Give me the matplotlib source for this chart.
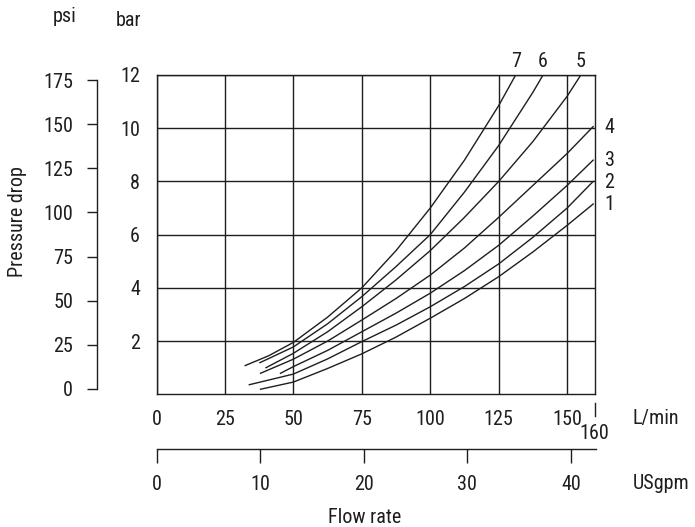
import matplotlib
matplotlib.use('Agg')
import matplotlib.pyplot as plt
from matplotlib import font_manager
from matplotlib.transforms import blended_transform_factory

# the reference uses a condensed face; take the first one that is installed
installed = {f.name for f in font_manager.fontManager.ttflist}
for fam in ['Roboto Condensed', 'Liberation Sans Narrow', 'DejaVu Sans Condensed',
            'Open Sans Condensed', 'Roboto']:
    if fam in installed:
        break
plt.rcParams['font.family'] = [fam, 'DejaVu Sans']

# axis ticks
lpm_ticks = [0, 25, 50, 75, 100, 125, 150]
bar_ticks = [2, 4, 6, 8, 10, 12]
psi_ticks = [0, 25, 50, 75, 100, 125, 150, 175]
gpm_ticks = [0, 10, 20, 30, 40]
LPM_PER_GPM = 3.785

# pressure drop curves, flow in L/min, pressure in bar
q1 = [38, 50, 62.5, 75, 87.5, 100, 112.5, 125, 137.5, 150, 159.5]
p1 = [0.19, 0.46, 0.97, 1.52, 2.15, 2.86, 3.6, 4.42, 5.35, 6.35, 7.15]
q2 = [33.9, 50, 62.5, 75, 87.5, 100, 112.5, 125, 137.5, 150, 159.5]
p2 = [0.36, 0.76, 1.33, 1.98, 2.6, 3.29, 4.05, 4.9, 5.9, 7.0, 8.0]
q3 = [45.3, 50, 62.5, 75, 87.5, 100, 112.5, 125, 137.5, 150, 159.5]
p3 = [0.79, 1.04, 1.65, 2.35, 3.05, 3.8, 4.65, 5.6, 6.7, 7.85, 8.8]
q4 = [38, 50, 62.5, 75, 87.5, 100, 112.5, 125, 137.5, 150, 159.5]
p4 = [0.79, 1.32, 2.0, 2.79, 3.6, 4.48, 5.5, 6.65, 7.85, 9.05, 10.06]
q5 = [40, 50, 62.5, 75, 87.5, 100, 112.5, 125, 137.5, 150, 155]
p5 = [1.0, 1.54, 2.35, 3.29, 4.3, 5.4, 6.65, 8.0, 9.5, 11.2, 12.0]
q6 = [37.8, 50, 62.5, 75, 87.5, 100, 112.5, 125, 137.5, 141.2]
p6 = [1.19, 1.78, 2.65, 3.67, 4.8, 6.0, 7.6, 9.35, 11.35, 12.0]
q7 = [32.4, 41, 50, 62.5, 75, 87.5, 100, 112.5, 125, 131.2]
p7 = [1.08, 1.45, 1.95, 2.9, 4.0, 5.4, 7.0, 8.8, 10.85, 12.0]
curve_names = ['1', '2', '3', '4', '5', '6', '7']

ink = '#1e1e1e'
fs = 14.5 if fam != 'Roboto' else 12.5
W, H = 695, 527


def fx(px):
    return px / W


def fy(py):
    return 1 - py / H


fig = plt.figure(figsize=(6.95, 5.27), dpi=100)

# main chart: L/min vs bar
ax = fig.add_axes([fx(156.5), fy(394.3), (594.5 - 156.5) / W, (394.3 - 75) / H])
ax.set_xlim(0, 160)
ax.set_ylim(0, 12)
ax.set_xticks(lpm_ticks)
ax.set_yticks(bar_ticks)
ax.grid(True, color=ink, lw=1.0)
for s in ax.spines.values():
    s.set_color(ink)
    s.set_linewidth(1.0)
ax.tick_params(axis='x', length=0, labelsize=fs, pad=11.5, colors=ink)
ax.tick_params(axis='y', length=0, labelsize=fs, pad=12, colors=ink)

curves = [(q1, p1), (q2, p2), (q3, p3), (q4, p4), (q5, p5), (q6, p6), (q7, p7)]
for (q, p), name in zip(curves, curve_names):
    ax.plot(q, p, color=ink, lw=1.0, solid_joinstyle='round')
    if p[-1] >= 12:
        ax.annotate(name, (q[-1], p[-1]), xytext=(0, 9.6), textcoords='offset points',
                    ha='center', va='center', fontsize=fs, color=ink, annotation_clip=False)
    else:
        ax.annotate(name, (160, p[-1]), xytext=(10.8, -0.5), textcoords='offset points',
                    ha='center', va='center', fontsize=fs, color=ink, annotation_clip=False)

# the extra 160 mark at the right end of the L/min scale
trans = blended_transform_factory(ax.transData, ax.transAxes)
ax.plot([160, 160], [-0.026, -0.067], color=ink, lw=1.0, transform=trans, clip_on=False)
ax.text(160, -0.123, '160', ha='center', va='center', fontsize=fs, color=ink, transform=trans)

# psi scale on the far left
axp = fig.add_axes([fx(97), fy(389), 0.001, (389 - 80) / H])
axp.set_ylim(0, 175)
axp.set_yticks(psi_ticks)
axp.set_xticks([])
axp.patch.set_visible(False)
for k in ['top', 'right', 'bottom']:
    axp.spines[k].set_visible(False)
axp.spines['left'].set_color(ink)
axp.spines['left'].set_linewidth(1.0)
axp.spines['left'].set_bounds(0, 175)
axp.tick_params(axis='y', length=7.2, width=1.0, labelsize=fs, pad=10, colors=ink)

# USgpm scale below
axg = fig.add_axes([fx(156.5), fy(449), (595.7 - 156.5) / W, 0.001])
axg.set_xlim(0, 160 * (595.7 - 156.5) / (594.5 - 156.5) / LPM_PER_GPM)
axg.set_xticks(gpm_ticks)
axg.set_yticks([])
axg.patch.set_visible(False)
for k in ['top', 'right', 'left']:
    axg.spines[k].set_visible(False)
axg.spines['bottom'].set_color(ink)
axg.spines['bottom'].set_linewidth(1.0)
axg.tick_params(axis='x', length=10, width=1.0, labelsize=fs, pad=8.5, colors=ink)

# unit and axis titles
fig.text(fx(65), fy(21.5), 'psi', ha='center', va='baseline', fontsize=fs, color=ink)
fig.text(fx(128.5), fy(26), 'bar', ha='center', va='baseline', fontsize=fs, color=ink)
fig.text(fx(17.5), fy(221.7), 'Pressure drop', rotation=90, ha='center', va='center',
         fontsize=fs, color=ink)
fig.text(fx(633), fy(418.5), 'L/min', ha='left', va='center', fontsize=fs, color=ink)
fig.text(fx(633), fy(483.5), 'USgpm', ha='left', va='center', fontsize=fs, color=ink)
fig.text(fx(365), fy(517.5), 'Flow rate', ha='center', va='center', fontsize=fs, color=ink)

fig.savefig('out.png', dpi=100)
